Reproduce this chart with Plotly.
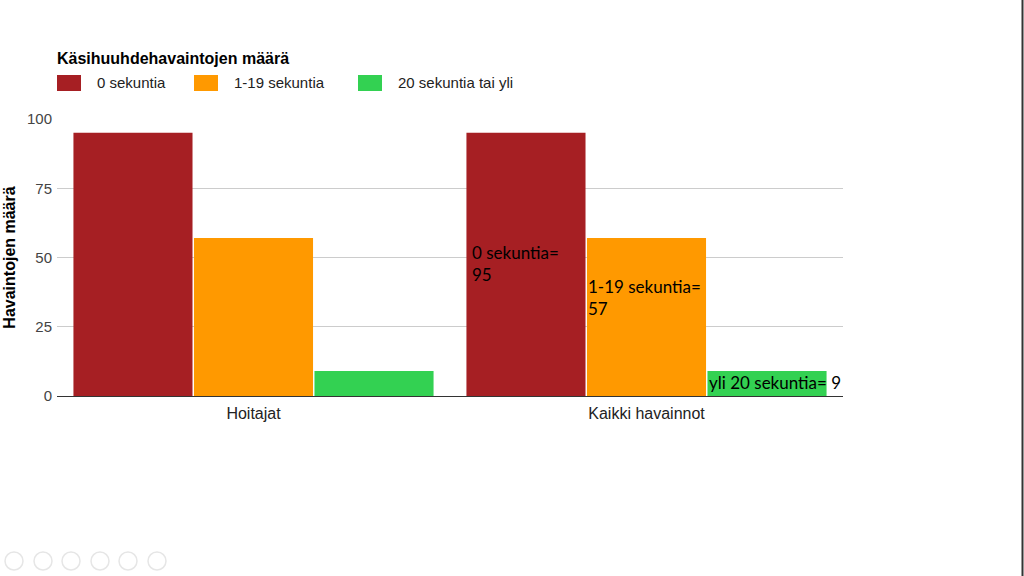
import plotly.graph_objects as go

categories = ["Hoitajat", "Kaikki havainnot"]
series_names = ["0 sekuntia", "1-19 sekuntia", "20 sekuntia tai yli"]
values_0 = [95, 95]
values_1_19 = [57, 57]
values_20 = [9, 9]
colors = ["#A61F23", "#FF9900", "#33D152"]
y_ticks = [0, 25, 50, 75, 100]

W, H = 1024, 576
L, R, T, B = 57, 181, 119, 180
PW, PH = W - L - R, H - T - B


def px(x):
    return (x - L) / PW


def py(y):
    return (H - B - y) / PH


fig = go.Figure()
for name, vals, col in zip(series_names, [values_0, values_1_19, values_20], colors):
    fig.add_trace(go.Bar(x=categories, y=vals, name=name, marker=dict(color=col, line=dict(width=0)),
                         hoverinfo="x+y+name", showlegend=False))

ann_font = dict(family="Lato, Carlito, sans-serif", size=17, color="#000000")
fig.add_annotation(x=0.557, y=56.3, xref="x", yref="y", text=f"0 sekuntia=<br>{values_0[1]}",
                   showarrow=False, xanchor="left", yanchor="top", align="left", font=ann_font,
                   xshift=-2)
fig.add_annotation(x=0.852, y=44.2, xref="x", yref="y", text=f"1-19 sekuntia=<br>{values_1_19[1]}",
                   showarrow=False, xanchor="left", yanchor="top", align="left", font=ann_font,
                   xshift=-2)
fig.add_annotation(x=1.158, y=4.7, xref="x", yref="y", text=f"yli 20 sekuntia= {values_20[1]}",
                   showarrow=False, xanchor="left", yanchor="middle", align="left", font=ann_font,
                   xshift=-2)

# custom legend (larger swatches like the original)
legend_starts = [57, 194, 358]
for name, col, x0 in zip(series_names, colors, legend_starts):
    fig.add_shape(type="rect", xref="paper", yref="paper", x0=px(x0), x1=px(x0 + 24),
                  y0=py(91), y1=py(75), fillcolor=col, line=dict(width=0))
    fig.add_annotation(xref="paper", yref="paper", x=px(x0 + 38), y=py(83), text=name,
                       showarrow=False, xanchor="left", yanchor="middle",
                       font=dict(size=15, color="#222222"))

# slide border on the right edge
fig.add_shape(type="line", xref="paper", yref="paper", x0=px(1022.5), x1=px(1022.5), y0=py(576), y1=py(0),
              line=dict(color="#333333", width=2))

# faint slideshow control circles bottom-left
for cx in [14, 43, 71, 100, 128, 157]:
    fig.add_shape(type="circle", xref="paper", yref="paper", x0=px(cx - 9), x1=px(cx + 9),
                  y0=py(570), y1=py(552), line=dict(color="#E6E6E6", width=1.5))

fig.update_layout(
    width=W, height=H,
    paper_bgcolor="white", plot_bgcolor="white",
    margin=dict(l=L, r=R, t=T, b=B, autoexpand=False),
    font=dict(family="Liberation Sans, Arial, sans-serif", size=15, color="#222222"),
    title=dict(text="<b>Käsihuuhdehavaintojen määrä</b>", x=57 / W, xref="container", xanchor="left",
               y=(H - 58) / H, yref="container", yanchor="middle", font=dict(size=16, color="#000000")),
    barmode="group", bargap=0.08, bargroupgap=0.012,
    showlegend=False,
    xaxis=dict(type="category", showgrid=False, showline=False, ticks="", ticklabelstandoff=6,
               tickfont=dict(size=16, color="#222222")),
    yaxis=dict(range=[0, 100], tickvals=y_ticks, showgrid=True, gridcolor="#CCCCCC", gridwidth=1,
               zeroline=True, zerolinecolor="#333333", zerolinewidth=1, ticklabelstandoff=4,
               tickfont=dict(size=15, color="#444444"), ticks="",
               title=dict(text="<b>Havaintojen määrä</b>", font=dict(size=16, color="#000000"), standoff=7)),
)

fig.write_html("out.html")
